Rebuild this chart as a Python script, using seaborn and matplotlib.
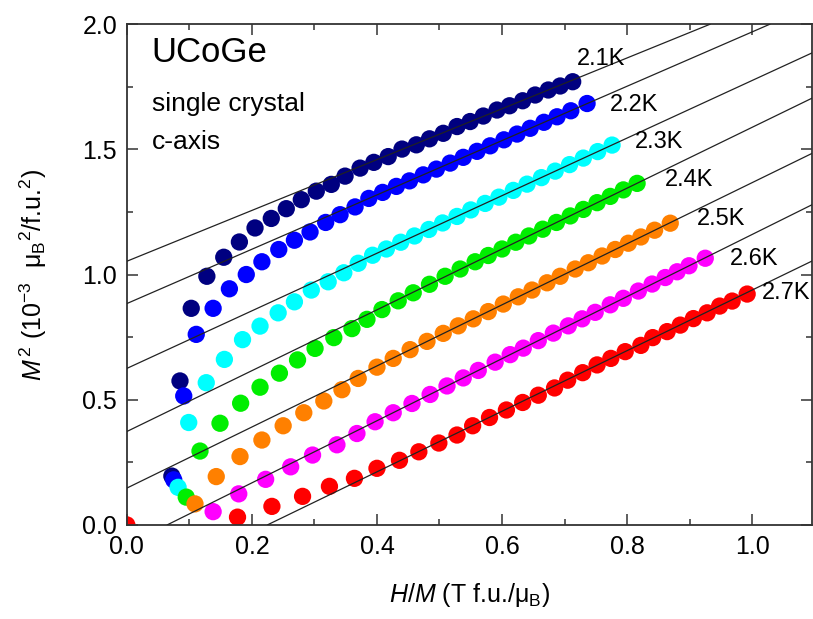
import numpy as np
import pandas as pd
import seaborn as sns
import matplotlib.pyplot as plt
from matplotlib.ticker import MultipleLocator

# temperatures and colours
temps = ["2.1K", "2.2K", "2.3K", "2.4K", "2.5K", "2.6K", "2.7K"]
colors = ["#000080", "#0000ff", "#00ffff", "#00ee00", "#ff8000", "#ff00ff", "#ff0000"]

# H/M (x) and M^2 (y)
x_21 = [0.072, 0.085, 0.103, 0.128, 0.155, 0.180, 0.205, 0.231, 0.255, 0.279, 0.303, 0.327, 0.349, 0.373, 0.395,
        0.418, 0.440, 0.463, 0.484, 0.506, 0.528, 0.549, 0.570, 0.592, 0.612, 0.633, 0.653, 0.674, 0.693, 0.713]
y_21 = [0.195, 0.575, 0.865, 0.993, 1.069, 1.130, 1.186, 1.224, 1.263, 1.299, 1.333, 1.360, 1.393, 1.425, 1.448,
        1.471, 1.501, 1.518, 1.542, 1.564, 1.591, 1.611, 1.633, 1.657, 1.674, 1.694, 1.717, 1.737, 1.753, 1.770]

x_22 = [0.075, 0.091, 0.111, 0.138, 0.164, 0.191, 0.216, 0.243, 0.268, 0.293, 0.318, 0.341, 0.365, 0.387, 0.409,
        0.431, 0.452, 0.474, 0.495, 0.517, 0.538, 0.560, 0.581, 0.603, 0.624, 0.645, 0.667, 0.688, 0.710, 0.736]
y_22 = [0.180, 0.515, 0.761, 0.865, 0.943, 1.000, 1.051, 1.100, 1.137, 1.170, 1.208, 1.239, 1.270, 1.304, 1.328,
        1.352, 1.374, 1.398, 1.421, 1.445, 1.468, 1.492, 1.514, 1.538, 1.561, 1.584, 1.608, 1.630, 1.654, 1.683]

x_23 = [0.082, 0.099, 0.127, 0.156, 0.185, 0.213, 0.242, 0.268, 0.295, 0.322, 0.347, 0.370, 0.393, 0.415, 0.438,
        0.460, 0.483, 0.505, 0.528, 0.550, 0.573, 0.595, 0.618, 0.640, 0.663, 0.685, 0.708, 0.730, 0.753, 0.776]
y_23 = [0.150, 0.409, 0.568, 0.661, 0.740, 0.794, 0.847, 0.891, 0.938, 0.971, 1.007, 1.045, 1.077, 1.102, 1.129,
        1.154, 1.180, 1.206, 1.232, 1.258, 1.284, 1.309, 1.336, 1.361, 1.387, 1.413, 1.439, 1.465, 1.491, 1.517]

x_24 = [0.095, 0.117, 0.149, 0.182, 0.213, 0.244, 0.273, 0.301, 0.331, 0.360, 0.384, 0.408, 0.434, 0.458, 0.484,
        0.509, 0.533, 0.557, 0.578, 0.600, 0.622, 0.643, 0.665, 0.687, 0.709, 0.730, 0.752, 0.773, 0.794, 0.816]
y_24 = [0.111, 0.295, 0.406, 0.486, 0.550, 0.606, 0.659, 0.705, 0.748, 0.784, 0.821, 0.860, 0.895, 0.927, 0.961,
        0.993, 1.022, 1.051, 1.076, 1.102, 1.129, 1.154, 1.181, 1.208, 1.234, 1.260, 1.287, 1.312, 1.338, 1.364]

x_25 = [0.109, 0.143, 0.181, 0.216, 0.250, 0.283, 0.315, 0.344, 0.370, 0.400, 0.426, 0.453, 0.480, 0.506, 0.530,
        0.554, 0.578, 0.602, 0.626, 0.648, 0.672, 0.693, 0.717, 0.738, 0.760, 0.781, 0.802, 0.822, 0.844, 0.869]
y_25 = [0.084, 0.193, 0.273, 0.339, 0.396, 0.448, 0.495, 0.540, 0.585, 0.630, 0.665, 0.700, 0.733, 0.765, 0.795,
        0.823, 0.852, 0.882, 0.911, 0.938, 0.967, 0.993, 1.022, 1.047, 1.074, 1.100, 1.125, 1.150, 1.177, 1.205]

x_26 = [0.138, 0.179, 0.222, 0.262, 0.297, 0.336, 0.368, 0.397, 0.426, 0.456, 0.485, 0.512, 0.538, 0.562, 0.589,
        0.613, 0.634, 0.658, 0.682, 0.706, 0.728, 0.749, 0.773, 0.794, 0.818, 0.840, 0.861, 0.880, 0.899, 0.925]
y_26 = [0.053, 0.124, 0.182, 0.232, 0.279, 0.320, 0.365, 0.412, 0.448, 0.485, 0.521, 0.555, 0.587, 0.617, 0.650,
        0.680, 0.706, 0.736, 0.766, 0.795, 0.823, 0.849, 0.879, 0.905, 0.934, 0.962, 0.988, 1.011, 1.035, 1.065]

x_27 = [0.0, 0.177, 0.232, 0.281, 0.324, 0.364, 0.400, 0.436, 0.467, 0.499, 0.528, 0.553, 0.580, 0.607, 0.633,
        0.658, 0.684, 0.705, 0.729, 0.752, 0.774, 0.797, 0.822, 0.841, 0.864, 0.885, 0.906, 0.928, 0.948, 0.968, 0.992]
y_27 = [0.0, 0.031, 0.074, 0.114, 0.154, 0.186, 0.226, 0.258, 0.292, 0.327, 0.359, 0.396, 0.429, 0.459, 0.489,
        0.518, 0.547, 0.578, 0.608, 0.639, 0.665, 0.692, 0.717, 0.748, 0.772, 0.798, 0.824, 0.847, 0.874, 0.894, 0.922]

# linear fits: intercept and slope
fit_b = [1.053, 0.884, 0.625, 0.373, 0.147, -0.080, -0.272]
fit_m = [1.015, 1.085, 1.150, 1.215, 1.220, 1.240, 1.210]

# label positions (left x, centre y)
lab_x = [0.720, 0.773, 0.813, 0.861, 0.912, 0.965, 1.016]
lab_y = [1.862, 1.679, 1.531, 1.377, 1.222, 1.062, 0.926]

xs = [x_21, x_22, x_23, x_24, x_25, x_26, x_27]
ys = [y_21, y_22, y_23, y_24, y_25, y_26, y_27]
df = pd.concat([pd.DataFrame({"HM": x, "M2": y, "T": t}) for x, y, t in zip(xs, ys, temps)],
               ignore_index=True)

sns.set_style("ticks")
plt.rcParams["font.family"] = ["Liberation Sans", "DejaVu Sans"]
plt.rcParams["mathtext.fontset"] = "custom"
plt.rcParams["mathtext.rm"] = "Liberation Sans"
plt.rcParams["mathtext.it"] = "Liberation Sans:italic"
plt.rcParams["text.color"] = "black"
plt.rcParams["axes.labelcolor"] = "black"

fig = plt.figure(figsize=(8.13, 6.19), dpi=100)
ax = fig.add_axes([0.156, 0.152, 0.843, 0.809])

sns.scatterplot(data=df, x="HM", y="M2", hue="T", palette=colors, s=155,
                edgecolor="none", legend=False, ax=ax, zorder=2, clip_on=True)

for b, m in zip(fit_b, fit_m):
    ax.axline((0, b), slope=m, color="#222222", lw=0.9, zorder=3)

for t, lx, ly in zip(temps, lab_x, lab_y):
    ax.text(lx, ly, t, fontsize=17, va="center", ha="left", clip_on=False)

ax.text(0.04, 1.885, "UCoGe", fontsize=25, va="center")
ax.text(0.04, 1.68, "single crystal", fontsize=19, va="center")
ax.text(0.04, 1.53, "c-axis", fontsize=19, va="center")

ax.set_xlim(0, 1.096)
ax.set_ylim(0, 2.0)
ax.xaxis.set_major_locator(MultipleLocator(0.2))
ax.xaxis.set_minor_locator(MultipleLocator(0.1))
ax.yaxis.set_major_locator(MultipleLocator(0.5))
ax.yaxis.set_minor_locator(MultipleLocator(0.25))
ax.xaxis.set_major_formatter(plt.FormatStrFormatter("%.1f"))
ax.yaxis.set_major_formatter(plt.FormatStrFormatter("%.1f"))
ax.tick_params(which="both", direction="in", top=True, right=True, labelsize=18, width=1.1, colors="#333333",
               labelcolor="black")
ax.tick_params(which="major", length=8, pad=7)
ax.tick_params(which="minor", length=4)
for sp in ax.spines.values():
    sp.set_linewidth(1.3)
    sp.set_color("#333333")

ax.set_xlabel(r"$\it{H/M}$ (T f.u./μ$_{\rm B}$)", fontsize=18, labelpad=16)
ax.set_ylabel(r"$\it{M}^{\,2}$ (10$^{-3}$  μ$_{\rm B}$$^{2}$/f.u.$^{2}$)", fontsize=18, labelpad=24)

fig.savefig("out.png", dpi=100)
